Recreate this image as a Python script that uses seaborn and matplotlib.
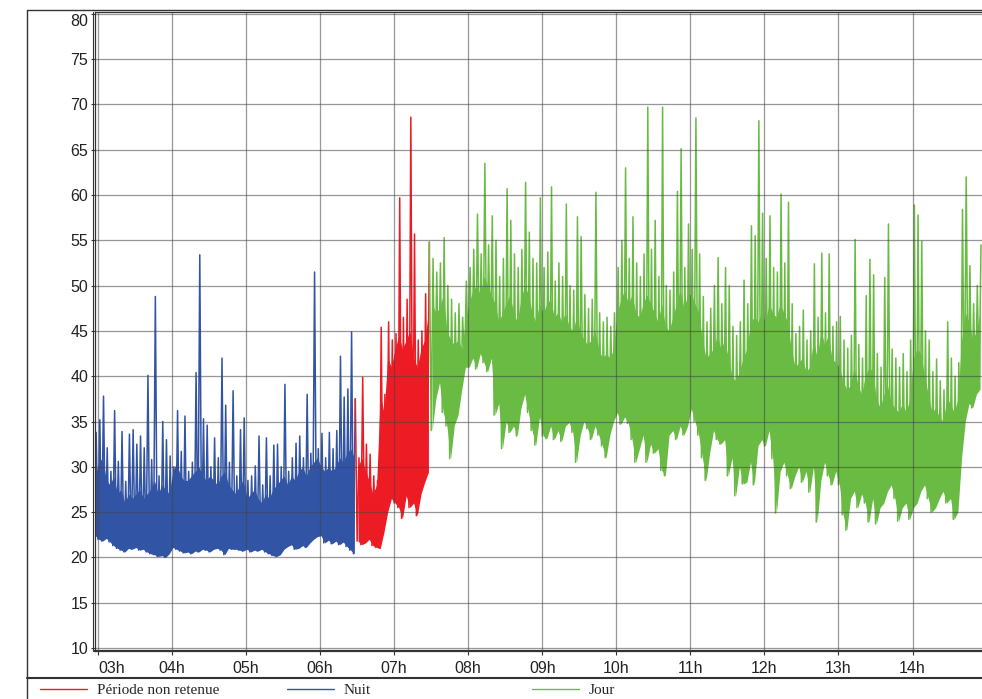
"""Niveau sonore mesuré - périodes nuit / jour."""

import pandas as pd
import seaborn as sns
import matplotlib.pyplot as plt
from matplotlib.lines import Line2D

W, H = 982, 699
DAY = '2000-01-01'

period_labels = ['Période non retenue', 'Nuit', 'Jour']
period_colors = ['#ed1c24', '#3254a4', '#6abb44']

hour_ticks = list(range(3, 15))
hour_labels = [f'{h:02d}h' for h in hour_ticks]
level_ticks = list(range(10, 81, 5))

# 3-minute bins: lowest level, top of the dense band, highest peak
nuit_start = '02:57'
nuit_low = [22.4, 22.0, 21.8, 22.1, 21.7,
            21.3, 21.0, 20.8, 20.6, 21.0,
            20.9, 21.1, 20.8, 20.9, 20.6,
            20.4, 20.3, 20.1, 20.2, 20.0, 20.4,
            21.1, 20.9, 20.7, 20.5,
            20.6, 20.4, 20.7, 20.6, 20.9, 20.8,
            20.6, 20.9, 21.0, 20.8, 20.3, 21.0, 20.9,
            20.9, 20.8, 20.7, 20.9, 20.6, 20.8, 20.7,
            20.9, 20.6, 20.4, 20.2, 20.1, 20.3, 20.9,
            21.2, 21.4, 20.9, 21.0, 21.3, 21.1, 21.6,
            22.0, 22.3, 22.4, 21.6, 21.9, 21.5,
            21.8, 21.4, 21.7, 21.2, 20.8, 20.4]
nuit_core = [29.0, 30.5, 31.0, 28.5, 28.0,
             29.0, 27.0, 27.5, 26.0, 27.0,
             26.5, 27.0, 27.5, 26.5, 27.0,
             27.5, 28.5, 27.0, 28.0, 27.5, 27.0,
             29.5, 30.5, 29.0, 28.5,
             28.5, 29.0, 29.5, 30.0, 29.0, 28.5,
             29.0, 28.5, 28.0, 29.0, 29.5, 28.0, 27.5,
             27.0, 28.0, 28.5, 26.5, 27.0, 27.5, 26.5,
             26.0, 27.0, 26.5, 27.5, 28.0, 28.5, 29.0,
             28.0, 29.0, 28.5, 29.5, 30.0, 29.0, 30.0,
             30.5, 31.0, 30.0, 29.5, 30.0, 29.5,
             30.0, 31.0, 30.5, 31.5, 32.0, 31.0]
nuit_high = [33.8, 35.2, 37.8, 32.1, 29.5,
             36.2, 30.6, 33.9, 28.4, 33.6,
             34.1, 32.5, 33.4, 32.1, 40.1,
             30.8, 48.8, 29.0, 35.0, 33.0, 31.2,
             30.0, 36.2, 31.7, 35.6,
             29.5, 30.5, 40.4, 53.4, 35.3, 34.6,
             30.0, 33.2, 31.0, 42.0, 36.8, 30.5, 38.4,
             29.0, 34.1, 35.4, 28.5, 29.0, 30.1, 33.4,
             28.0, 33.2, 29.0, 32.4, 32.5, 30.0, 39.1,
             29.5, 31.0, 32.6, 33.4, 31.0, 38.0, 31.5,
             51.5, 32.0, 33.7, 31.0, 33.8, 32.0,
             34.0, 42.2, 37.7, 38.6, 44.9, 37.5]

red_start = '06:30'
red_low = [21.8, 21.4, 21.6, 22.0, 21.3, 21.1, 21.0, 22.8, 25.0, 26.5,
           26.0, 25.5, 24.3, 26.8, 25.5, 26.0, 24.6, 27.0, 28.3, 29.4]
red_core = [30.0, 31.0, 29.5, 28.5, 27.0, 28.0, 38.0, 36.0, 42.0, 41.0,
            43.0, 44.5, 43.0, 44.0, 45.0, 42.0, 41.0, 43.0, 44.0, 47.0]
red_high = [31.0, 39.9, 32.5, 31.4, 29.0, 28.5, 45.4, 38.0, 46.0, 44.0,
            44.7, 59.7, 46.5, 48.5, 68.6, 55.7, 44.0, 45.0, 49.1, 54.8]

jour_start = '07:30'
jour_low = [34.0, 37.5, 39.3, 36.0, 34.5, 30.9, 34.6, 35.7, 38.5, 41.0,
            41.0, 42.0, 40.8, 42.5, 41.5, 40.5, 42.0, 35.7, 37.0, 32.0,
            35.0, 33.8, 34.5, 33.4, 36.5, 38.0, 36.0, 34.0, 32.4, 35.5,
            33.4, 33.1, 34.5, 33.0, 34.0, 32.8, 34.5, 34.9, 33.8, 30.5,
            33.5, 35.0, 34.2, 33.0, 34.5, 33.5, 32.3, 31.0, 33.5, 35.0,
            36.0, 34.7, 35.5, 34.8, 33.0, 30.5, 32.0, 33.5, 30.5, 32.5,
            31.5, 32.0, 29.6, 29.0, 33.5, 34.0, 33.0, 34.5, 33.5, 34.5,
            36.4, 35.0, 33.5, 31.0, 28.5, 31.6, 34.0, 33.0, 32.5, 33.0,
            29.0, 31.0, 26.8, 30.0, 28.1, 28.3, 30.5, 28.0, 32.3, 33.0,
            32.3, 34.0, 30.9, 24.9, 29.5, 30.5, 29.0, 27.6, 29.0, 30.0,
            28.3, 29.5, 27.2, 30.0, 23.9, 28.5, 30.5, 29.0, 28.0, 29.5,
            28.0, 24.7, 23.0, 26.5, 27.3, 25.5, 27.0, 26.0, 23.9, 26.5,
            23.7, 25.5, 26.0, 27.3, 28.0, 26.5, 24.0, 25.5, 26.0, 24.2,
            25.5, 26.0, 27.3, 28.0, 26.5, 25.0, 25.5, 26.5, 27.3, 26.0,
            26.5, 24.2, 25.0, 31.0, 35.0, 37.0, 36.5, 38.0, 38.6]
jour_core = [48.0, 47.0, 47.5, 49.0, 45.0, 44.0, 43.5, 44.0, 43.0, 46.0,
             48.0, 49.5, 50.0, 49.0, 51.0, 50.0, 49.0, 48.0, 46.0, 47.0,
             48.0, 49.0, 47.0, 46.0, 48.5, 50.0, 49.0, 47.0, 46.0, 48.0,
             47.0, 48.0, 48.5, 46.5, 47.0, 46.0, 47.0, 45.5, 45.0, 46.5,
             45.0, 44.0, 43.5, 44.0, 45.0, 43.0, 42.0, 42.5, 42.0, 43.0,
             47.0, 48.5, 49.5, 48.0, 49.0, 47.0, 46.5, 48.0, 49.0, 48.0,
             47.0, 46.0, 48.0, 45.5, 45.0, 46.5, 48.0, 49.5, 47.5, 49.0,
             49.0, 48.0, 47.0, 44.0, 42.0, 42.5, 43.0, 44.5, 43.0, 44.0,
             42.0, 40.0, 39.5, 40.5, 42.0, 43.0, 46.0, 46.5, 46.0, 47.0,
             46.0, 48.0, 47.0, 46.5, 48.0, 47.0, 46.0, 43.0, 41.0, 41.5,
             42.0, 40.5, 41.0, 44.0, 42.0, 45.0, 43.5, 44.5, 42.0, 41.5,
             41.0, 39.5, 38.5, 39.0, 41.0, 39.0, 38.0, 40.0, 41.0, 40.5,
             37.5, 36.5, 38.0, 39.0, 37.0, 36.5, 36.0, 37.0, 36.0, 37.5,
             42.0, 43.0, 42.5, 40.0, 38.0, 36.0, 36.5, 35.5, 35.0, 37.5,
             37.0, 36.0, 37.5, 44.0, 47.0, 46.0, 44.0, 45.0, 47.0]
jour_high = [53.0, 51.5, 52.5, 55.3, 50.0, 48.5, 47.0, 48.0, 46.5, 50.5,
             52.0, 54.0, 57.9, 53.5, 63.5, 54.5, 57.7, 55.0, 51.0, 53.0,
             60.7, 57.2, 53.5, 52.0, 54.0, 61.4, 55.9, 53.0, 52.5, 59.7,
             52.0, 53.7, 60.9, 50.5, 52.5, 51.0, 59.0, 50.0, 49.5, 57.6,
             55.4, 49.0, 47.5, 48.5, 60.3, 47.0, 46.0, 46.5, 45.5, 47.0,
             52.0, 55.0, 63.0, 53.0, 57.6, 52.5, 51.0, 53.5, 69.7, 54.0,
             57.2, 51.0, 69.7, 50.0, 49.5, 51.5, 60.4, 65.1, 52.0, 56.8,
             54.0, 68.5, 53.5, 48.8, 46.0, 47.5, 50.0, 53.1, 48.0, 52.0,
             50.0, 45.5, 44.5, 46.0, 50.6, 48.0, 56.6, 55.5, 68.2, 58.0,
             53.0, 57.7, 52.0, 51.5, 60.1, 52.5, 59.2, 48.0, 44.7, 45.5,
             47.3, 44.0, 45.0, 52.4, 46.5, 53.6, 47.0, 53.5, 45.5, 46.0,
             46.6, 44.0, 43.1, 44.5, 55.1, 43.5, 42.0, 48.9, 52.9, 51.2,
             42.5, 41.0, 50.9, 56.8, 43.0, 42.0, 41.0, 42.5, 40.5, 44.0,
             58.9, 57.8, 54.9, 45.0, 44.0, 40.5, 41.9, 39.5, 38.5, 46.0,
             42.0, 40.0, 41.5, 58.4, 62.0, 52.2, 48.0, 50.0, 54.5]


def bins_frame(start, lows, cores, highs):
    t0 = pd.Timestamp(f'{DAY} {start}')
    times = [t0 + pd.Timedelta(minutes=3 * i + 0.75) for i in range(len(lows))]
    return pd.DataFrame({'time': times, 'low': lows, 'core': cores, 'high': highs})


def trace_frame(bins):
    """Low then peak in each bin, as one time series."""
    rows = []
    for t, lo, hi in zip(bins['time'], bins['low'], bins['high']):
        rows.append((t - pd.Timedelta(minutes=0.75), lo))
        rows.append((t + pd.Timedelta(minutes=0.75), hi))
    return pd.DataFrame(rows, columns=['time', 'level'])


nuit_bins = bins_frame(nuit_start, nuit_low, nuit_core, nuit_high)
red_bins = bins_frame(red_start, red_low, red_core, red_high)
jour_bins = bins_frame(jour_start, jour_low, jour_core, jour_high)

nuit_df = trace_frame(nuit_bins)
red_df = trace_frame(red_bins)
jour_df = trace_frame(jour_bins)
# join each period to the last point of the previous one
red_df = pd.concat([nuit_df.tail(1), red_df], ignore_index=True)
jour_df = pd.concat([red_df.tail(1), jour_df], ignore_index=True)

sns.set_theme(style='white')
plt.rcParams['font.family'] = ['Liberation Sans', 'DejaVu Sans']

fig = plt.figure(figsize=(W / 100, H / 100), dpi=100)
ax = fig.add_axes([95 / W, 48 / H, 887 / W, 639 / H])

layers = [(nuit_bins, nuit_df, period_colors[1]),
          (red_bins, red_df, period_colors[0]),
          (jour_bins, jour_df, period_colors[2])]
for bins, df, color in layers:
    ax.fill_between(bins['time'], bins['low'], bins['core'], color=color, linewidth=0)
    sns.lineplot(data=df, x='time', y='level', color=color, linewidth=1.1,
                 estimator=None, sort=False, legend=False, ax=ax)

ax.set_xlim(pd.Timestamp(f'{DAY} 02:57:36'), pd.Timestamp(f'{DAY} 14:56:18'))
ax.set_ylim(9.67, 80.2)
ax.set_xticks([pd.Timestamp(f'{DAY} {h:02d}:00') for h in hour_ticks])
ax.set_xticklabels(hour_labels)
ax.set_yticks(level_ticks)
ax.set_yticklabels([str(v) for v in level_ticks])
ax.set_xlabel('')
ax.set_ylabel('')

ax.grid(True, color='#444444', alpha=0.55, linewidth=0.9)
ax.set_axisbelow(False)

ax.tick_params(axis='both', bottom=True, left=True, direction='out', length=3,
               width=0.8, color='#333333', labelcolor='#222222', labelsize=11.5)
ax.tick_params(axis='x', pad=4)
ax.tick_params(axis='y', pad=2)
ax.get_xticklabels()[0].set_horizontalalignment('left')
ax.get_yticklabels()[-1].set_verticalalignment('top')

for side in ['top', 'left']:
    ax.spines[side].set_color('#333333')
    ax.spines[side].set_linewidth(0.9)
ax.spines['bottom'].set_color('#333333')
ax.spines['bottom'].set_linewidth(1.6)
ax.spines['right'].set_visible(False)


def frame_line(x0, y0, x1, y1, lw=1.0):
    fig.add_artist(Line2D([x0 / W, x1 / W], [1 - y0 / H, 1 - y1 / H],
                          color='#333333', linewidth=lw, transform=fig.transFigure))


frame_line(27, 9.5, W, 9.5)
frame_line(27, 9.5, 27, H)
frame_line(92.5, 12, 92.5, 651, 0.8)
frame_line(27, 677.5, W, 677.5, 1.5)

for x_px, color, label in zip([40, 287, 532], period_colors, period_labels):
    fig.legend(handles=[Line2D([], [], color=color, linewidth=1)], labels=[label],
               loc='center left', bbox_to_anchor=(x_px / W, 1 - 690 / H),
               frameon=False, handlelength=3.1, handletextpad=0.6,
               borderpad=0, borderaxespad=0,
               prop={'family': 'Liberation Serif', 'size': 11})

fig.savefig('out.png', dpi=100)
